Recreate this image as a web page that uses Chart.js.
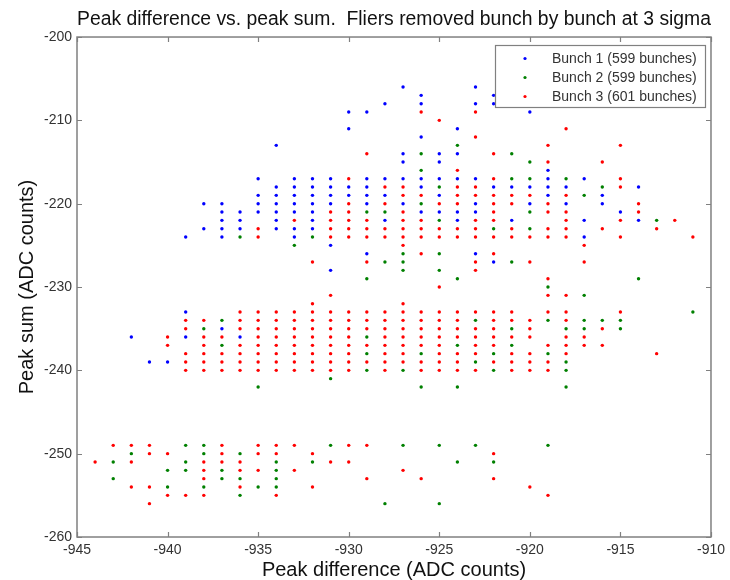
<!DOCTYPE html>
<html>
<head>
<meta charset="utf-8">
<title>Peak difference vs. peak sum</title>
<script src="https://cdn.jsdelivr.net/npm/chart.js@4"></script>
<style>
  html, body { margin: 0; padding: 0; background: #fff; }
  #wrap { width: 730px; height: 580px; }
</style>
</head>
<body>
<div id="wrap"><canvas id="peakChart" width="730" height="580"></canvas></div>
<script>
// Peak sum value of each row, followed by the peak differences seen on that row
const bunch1Rows = [
    [-206, [-927, -923]],
    [-207, [-926, -922]],
    [-208, [-928, -926, -923, -922]],
    [-209, [-930, -929, -920]],
    [-211, [-930, -924]],
    [-212, [-926]],
    [-213, [-934]],
    [-214, [-927, -925, -924]],
    [-215, [-927, -925]],
    [-216, [-919]],
    [-217, [-935, -933, -932, -931, -929, -928, -927, -926, -925, -924, -923, -919, -917]],
    [-218, [-934, -933, -932, -931, -930, -929, -926, -922, -921, -920, -919, -918, -914]],
    [-219, [-935, -934, -933, -932, -931, -930, -929, -928, -925, -919, -916]],
    [-220, [-938, -937, -935, -934, -933, -932, -931, -929, -927, -923, -920, -918, -916]],
    [-221, [-937, -936, -935, -934, -933, -932, -926, -925, -924, -923, -915]],
    [-222, [-937, -936, -934, -932, -928, -924, -921, -917, -914]],
    [-223, [-938, -937, -936, -934, -933, -932]],
    [-224, [-939, -937, -933, -917]],
    [-225, [-931]],
    [-226, [-929, -923]],
    [-227, [-922]],
    [-228, [-931]],
    [-233, [-939]],
    [-235, [-937]],
    [-236, [-942, -939, -936]],
    [-239, [-941, -940]]
];

const bunch2Rows = [
    [-213, [-924]],
    [-214, [-926, -921]],
    [-215, [-920]],
    [-216, [-926]],
    [-217, [-921, -920, -918]],
    [-218, [-925, -916]],
    [-219, [-917]],
    [-220, [-926]],
    [-221, [-929, -928, -920]],
    [-222, [-925, -913]],
    [-223, [-922, -920]],
    [-224, [-936, -932]],
    [-225, [-933]],
    [-226, [-927, -925]],
    [-227, [-928, -927, -921]],
    [-228, [-927, -925]],
    [-229, [-929, -924, -914]],
    [-230, [-919]],
    [-231, [-917]],
    [-233, [-911]],
    [-234, [-937, -923, -919, -917, -916, -915]],
    [-235, [-938, -921, -918, -917, -915]],
    [-236, [-929]],
    [-237, [-937, -924, -921]],
    [-238, [-929, -926, -922, -919]],
    [-239, [-923, -918]],
    [-240, [-929, -927, -922, -918]],
    [-241, [-931]],
    [-242, [-935, -926, -924, -918]],
    [-249, [-939, -938, -931, -927, -925, -923, -919]],
    [-250, [-942, -938, -936]],
    [-251, [-943, -939, -934, -932, -924, -922]],
    [-252, [-940, -939, -937, -934]],
    [-253, [-943, -937, -936, -934]],
    [-254, [-940, -938, -935, -934]],
    [-255, [-936]],
    [-256, [-928, -925]]
];

const bunch3Rows = [
    [-209, [-926, -923]],
    [-210, [-925]],
    [-211, [-918]],
    [-212, [-923]],
    [-213, [-919, -915]],
    [-214, [-929, -922]],
    [-215, [-919, -916]],
    [-216, [-924]],
    [-217, [-930, -922, -915]],
    [-218, [-928, -927, -924, -923, -915]],
    [-219, [-927, -926, -924, -923, -922, -921, -920, -918]],
    [-220, [-930, -928, -925, -924, -922, -921, -919, -914]],
    [-221, [-931, -930, -927, -922, -919, -918, -914]],
    [-222, [-933, -931, -930, -929, -927, -926, -923, -922, -918, -915, -912]],
    [-223, [-935, -931, -930, -929, -928, -927, -926, -925, -924, -923, -921, -919, -918, -916, -913]],
    [-224, [-935, -931, -930, -929, -928, -927, -926, -925, -924, -923, -922, -921, -920, -919, -918, -915, -911]],
    [-225, [-927, -917]],
    [-226, [-926, -922]],
    [-227, [-932, -929, -923, -920, -917]],
    [-228, [-923]],
    [-229, [-919]],
    [-230, [-925]],
    [-231, [-931, -919, -918]],
    [-232, [-932, -927]],
    [-233, [-936, -935, -934, -933, -932, -931, -930, -929, -928, -927, -926, -925, -924, -923, -922, -921, -919, -918, -915]],
    [-234, [-939, -938, -936, -935, -934, -933, -932, -931, -930, -929, -928, -927, -926, -925, -924, -922, -921, -920, -918]],
    [-235, [-939, -936, -935, -934, -933, -932, -931, -930, -929, -928, -927, -926, -925, -924, -923, -922, -920, -916]],
    [-236, [-940, -938, -937, -935, -934, -933, -932, -931, -930, -928, -927, -926, -925, -924, -923, -922, -921, -920, -918, -917]],
    [-237, [-940, -938, -936, -935, -934, -933, -932, -931, -930, -929, -928, -927, -926, -925, -923, -922, -919, -918, -917, -916]],
    [-238, [-939, -938, -937, -936, -935, -934, -933, -932, -931, -930, -928, -927, -925, -924, -923, -921, -920, -918, -913]],
    [-239, [-939, -938, -937, -936, -935, -934, -933, -932, -931, -930, -929, -928, -927, -926, -925, -924, -922, -921, -920, -919]],
    [-240, [-939, -938, -937, -936, -935, -934, -933, -932, -931, -930, -928, -926, -925, -924, -923, -921, -920, -919]],
    [-249, [-943, -942, -941, -937, -935, -934, -933, -930, -929]],
    [-250, [-941, -940, -937, -935, -934, -932, -922]],
    [-251, [-944, -942, -938, -937, -936, -931, -930]],
    [-252, [-938, -936, -935, -933, -927]],
    [-253, [-938, -929, -926, -922]],
    [-254, [-942, -941, -936, -932, -920]],
    [-255, [-940, -939, -938, -934, -919]],
    [-256, [-941]]
];

const seriesLabels = ['Bunch 1 (599 bunches)', 'Bunch 2 (599 bunches)', 'Bunch 3 (601 bunches)'];
const seriesColors = ['#0000ff', '#008000', '#ff0000'];

const xTicks = [-945, -940, -935, -930, -925, -920, -915, -910];
const yTicks = [-260, -250, -240, -230, -220, -210, -200];

function toPoints(rows) {
    const pts = [];
    rows.forEach(([y, xs]) => xs.forEach(x => pts.push({ x: x, y: y })));
    return pts;
}

// matlab style box: frame on all four sides with ticks pointing inward
const axesBox = {
    id: 'axesBox',
    afterDatasetsDraw(chart) {
        const { ctx, chartArea: a, scales } = chart;
        const tl = 5;
        ctx.save();
        ctx.strokeStyle = '#808080';
        ctx.lineWidth = 1.5;
        ctx.strokeRect(a.left, a.top, a.right - a.left, a.bottom - a.top);
        ctx.lineWidth = 1.2;
        ctx.beginPath();
        xTicks.forEach(v => {
            const px = Math.round(scales.x.getPixelForValue(v)) + 0.5;
            ctx.moveTo(px, a.bottom); ctx.lineTo(px, a.bottom - tl);
            ctx.moveTo(px, a.top); ctx.lineTo(px, a.top + tl);
        });
        yTicks.forEach(v => {
            const py = Math.round(scales.y.getPixelForValue(v)) + 0.5;
            ctx.moveTo(a.left, py); ctx.lineTo(a.left + tl, py);
            ctx.moveTo(a.right, py); ctx.lineTo(a.right - tl, py);
        });
        ctx.stroke();
        ctx.restore();
    }
};

// legend box sits inside the plot, top right, hiding the points behind it
const boxLegend = {
    id: 'boxLegend',
    afterDraw(chart) {
        const { ctx } = chart;
        const x0 = 495, y0 = 45, w = 210, h = 62;
        ctx.save();
        ctx.fillStyle = '#ffffff';
        ctx.fillRect(x0, y0, w, h);
        ctx.strokeStyle = '#808080';
        ctx.lineWidth = 1.2;
        ctx.strokeRect(x0 + 0.5, y0 + 0.5, w, h);
        ctx.font = '14px "Liberation Sans", Arial, sans-serif';
        ctx.textBaseline = 'middle';
        chart.data.datasets.forEach((ds, i) => {
            const cy = y0 + 13.5 + i * 19;
            ctx.fillStyle = ds.backgroundColor;
            ctx.beginPath();
            ctx.arc(x0 + 30, cy, 1.6, 0, Math.PI * 2);
            ctx.fill();
            ctx.fillStyle = '#333333';
            ctx.fillText(ds.label, x0 + 57, cy + 1);
        });
        ctx.restore();
    }
};

const ctx = document.getElementById('peakChart').getContext('2d');
const peakChart = new Chart(ctx, {
    type: 'scatter',
    data: {
        datasets: [bunch1Rows, bunch2Rows, bunch3Rows].map((rows, i) => ({
            label: seriesLabels[i],
            data: toPoints(rows),
            backgroundColor: seriesColors[i],
            borderColor: seriesColors[i],
            borderWidth: 0,
            pointRadius: 1.7,
            pointHoverRadius: 1.7
        }))
    },
    options: {
        responsive: false,
        animation: false,
        devicePixelRatio: 1,
        layout: { padding: { left: 0, right: 19, top: 0, bottom: 0 } },
        plugins: {
            legend: { display: false },
            tooltip: { enabled: false },
            title: {
                display: true,
                fullSize: false,
                text: 'Peak difference vs. peak sum.  Fliers removed bunch by bunch at 3 sigma',
                color: '#111111',
                font: { family: '"Liberation Sans", Arial, sans-serif', size: 19.6, weight: 'normal', lineHeight: 1.2 },
                padding: { top: 7.5, bottom: 6 }
            }
        },
        scales: {
            x: {
                type: 'linear',
                min: -945,
                max: -910,
                afterFit: (scale) => { scale.height = 43; },
                afterBuildTicks: (scale) => { scale.ticks = xTicks.map(v => ({ value: v })); },
                grid: { display: false, drawTicks: false },
                border: { display: false },
                ticks: {
                    padding: 5,
                    color: '#333333',
                    font: { family: '"Liberation Sans", Arial, sans-serif', size: 14 }
                },
                title: {
                    display: true,
                    text: 'Peak difference (ADC counts)',
                    color: '#111111',
                    font: { family: '"Liberation Sans", Arial, sans-serif', size: 20, lineHeight: 1 },
                    padding: { top: 0, bottom: 0 }
                }
            },
            y: {
                type: 'linear',
                min: -260,
                max: -200,
                afterFit: (scale) => { scale.width = 77; },
                afterBuildTicks: (scale) => { scale.ticks = yTicks.map(v => ({ value: v })); },
                grid: { display: false, drawTicks: false },
                border: { display: false },
                ticks: {
                    padding: 5,
                    color: '#333333',
                    font: { family: '"Liberation Sans", Arial, sans-serif', size: 14 }
                },
                title: {
                    display: true,
                    text: 'Peak sum (ADC counts)',
                    color: '#111111',
                    font: { family: '"Liberation Sans", Arial, sans-serif', size: 20, lineHeight: 1 },
                    padding: { top: 17, bottom: 0 }
                }
            }
        }
    },
    plugins: [axesBox, boxLegend]
});
</script>
</body>
</html>
